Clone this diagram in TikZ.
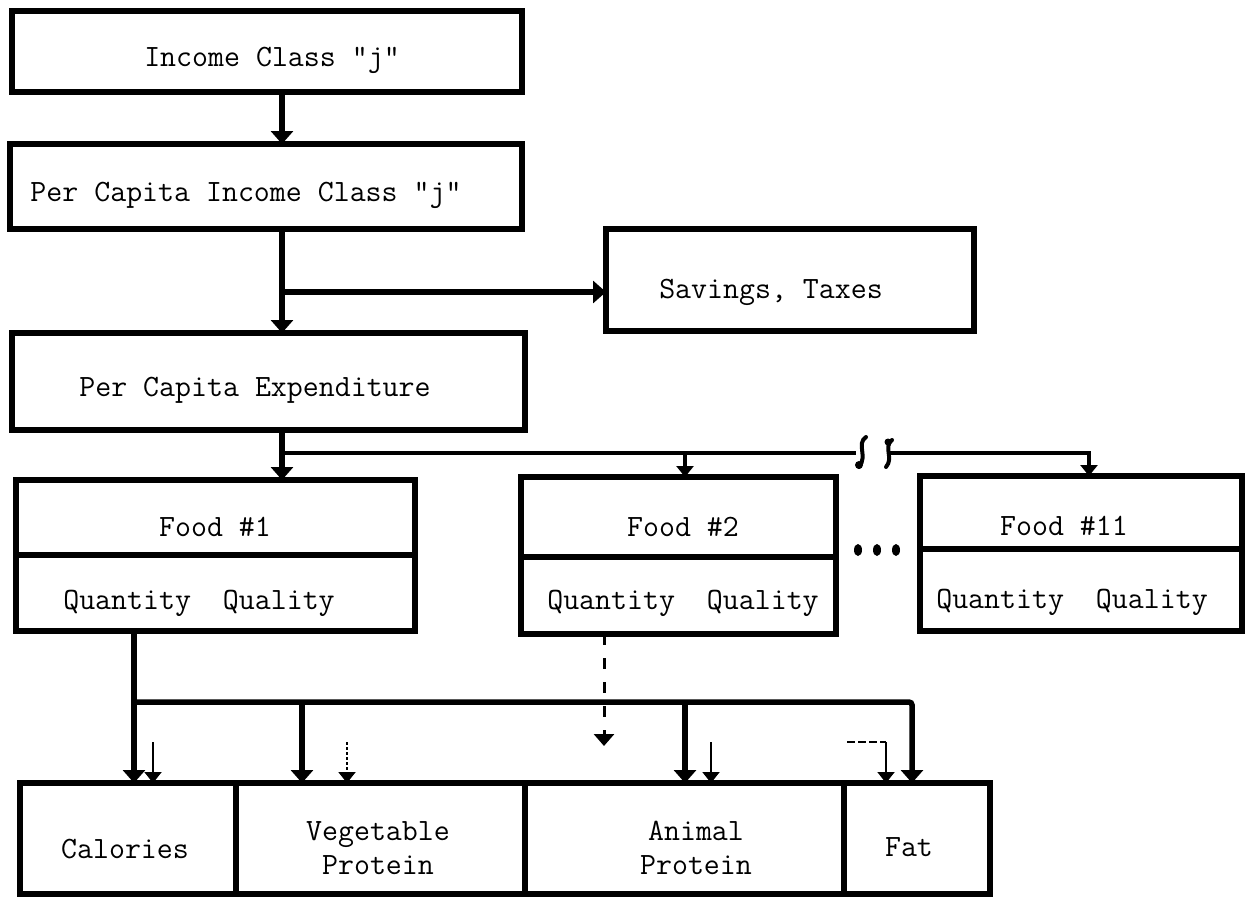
\documentclass[tikz,border=0pt]{standalone}
\usetikzlibrary{arrows.meta}
\begin{document}
\begin{tikzpicture}[x=1pt,y=-1pt,
  box/.style={draw, line width=6pt, inner sep=0pt, outer sep=0pt, rectangle},
  txt/.style={font=\fontsize{31}{34}\selectfont\ttfamily, inner sep=0pt, align=center},
  conn/.style={line width=5.5pt},
  medconn/.style={line width=4pt},
  thinconn/.style={line width=2pt},
  bigtip/.style={-{Triangle[width=22pt,length=13pt]}},
  smalltip/.style={-{Triangle[width=17pt,length=11pt]}}
]
\useasboundingbox (0,0) rectangle (1246,899);

% boxes
\node[box, minimum width=510pt, minimum height=81pt] (inc) at (267,51.5) {};
\node[box, minimum width=512pt, minimum height=85pt] (pci) at (266,186.5) {};
\node[box, minimum width=368pt, minimum height=102pt] (sav) at (790,280) {};
\node[box, minimum width=513pt, minimum height=97pt] (pce) at (268.5,381.5) {};
\node[box, minimum width=399pt, minimum height=151pt] (f1) at (215.5,555.5) {};
\node[box, minimum width=315pt, minimum height=157pt] (f2) at (678.5,555.5) {};
\node[box, minimum width=322pt, minimum height=155pt] (f11) at (1081,553.5) {};
\node[box, minimum width=216pt, minimum height=111pt] (cal) at (128,838.5) {};
\node[box, minimum width=289pt, minimum height=111pt] (veg) at (380.5,838.5) {};
\node[box, minimum width=319pt, minimum height=111pt] (ani) at (684.5,838.5) {};
\node[box, minimum width=146pt, minimum height=111pt] (fat) at (917,838.5) {};

% dividers in food boxes
\coordinate (d1) at (0,555);
\coordinate (d2) at (0,557);
\coordinate (d11) at (0,549);
\draw[line width=6pt] (f1.west |- d1) -- (f1.east |- d1);
\draw[line width=6pt] (f2.west |- d2) -- (f2.east |- d2);
\draw[line width=6pt] (f11.west |- d11) -- (f11.east |- d11);

% texts
\node[txt] (tinc) at (272,60) {Income Class "j"};
\node[txt] (tpci) at (246,195) {Per Capita Income Class "j"};
\node[txt] (tsav) at (771,292) {Savings, Taxes};
\node[txt] (tpce) at (255,390) {Per Capita Expenditure};
\node[txt] (tf1) at (215,527) {Food \#1};
\node[txt] (tq1) at (199,603) {Quantity\ \ Quality};
\node[txt] (tf2) at (683,527) {Food \#2};
\node[txt] (tq2) at (683,603) {Quantity\ \ Quality};
\node[txt] (tf11) at (1064,526) {Food \#11};
\node[txt] (tq11) at (1072,602) {Quantity\ \ Quality};
\node[txt] (tcal) at (125,849) {Calories};
\node[txt] (tveg) at (378,848) {Vegetable\\Protein};
\node[txt] (tani) at (696,848) {Animal\\Protein};
\node[txt] (tfat) at (909,847) {Fat};

% ellipsis dots
\fill (858,550) ellipse (4pt and 6pt);
\fill (877,550) ellipse (4pt and 6pt);
\fill (896,550) ellipse (4pt and 6pt);

% main trunk
\coordinate (xa) at (282,0);
\coordinate (br) at (282,292);
\draw[conn,bigtip] (inc.south -| xa) -- (pci.north -| xa);
\draw[conn,bigtip] (pci.south -| xa) -- (pce.north -| xa);
\draw[conn,bigtip] (br) -- (br -| sav.west);
\draw[conn,bigtip] (pce.south -| xa) -- (f1.north -| xa);

% bus to foods with break
\coordinate (bus) at (282,453);
\coordinate (brk1) at (856,453);
\coordinate (brk2) at (889,453);
\coordinate (x2) at (685,0);
\coordinate (x11) at (1089,0);
\draw[medconn] (bus) -- (brk1);
\draw[medconn,smalltip] (bus -| x2) -- (f2.north -| x2);
\draw[medconn,smalltip] (brk2) -- (bus -| x11) -- (f11.north -| x11);
% break squiggles
\draw[line width=4pt, line cap=round] (866,437) .. controls (856,444) and (868,456) .. (859,467);
\fill (859,465) ellipse (4pt and 4pt);
\draw[line width=4pt, line cap=round] (892,440) .. controls (883,447) and (894,458) .. (886,467);
\fill (888,442) ellipse (3.5pt and 3.5pt);

% food 1 to nutrients
\coordinate (xb1) at (134,0);
\coordinate (xb2) at (302,0);
\coordinate (xb3) at (685,0);
\coordinate (xb4) at (912,0);
\coordinate (bus2) at (134,702);
\draw[conn,bigtip] (f1.south -| xb1) -- (cal.north -| xb1);
\draw[conn,bigtip, rounded corners=3pt] (bus2) -- (bus2 -| xb4) -- (fat.north -| xb4);
\draw[conn,bigtip] (bus2 -| xb2) -- (veg.north -| xb2);
\draw[conn,bigtip] (bus2 -| xb3) -- (ani.north -| xb3);

% thin arrows
\coordinate (s1) at (153,742);
\coordinate (s2) at (347,742);
\coordinate (s3) at (711,742);
\coordinate (s4) at (886,742);
\coordinate (s4t) at (847,742);
\draw[thinconn,smalltip] (s1) -- (s1 |- cal.north);
\draw[thinconn,smalltip,dash pattern=on 3pt off 2pt] (s2) -- (s2 |- veg.north);
\draw[thinconn,smalltip] (s3) -- (s3 |- ani.north);
\draw[thinconn,smalltip] (s4) -- (s4 |- fat.north);
\draw[thinconn,dash pattern=on 8pt off 3pt] (s4t) -- (s4);

% dashed arrow from food 2
\coordinate (x2d) at (604,0);
\coordinate (e2) at (604,746);
\coordinate (e2a) at (604,732);
\draw[line width=3pt, dash pattern=on 11pt off 13pt] (f2.south -| x2d) -- (e2a);
\draw[line width=3pt,-{Triangle[width=20pt,length=12pt]}] (e2a) -- (e2);

\end{tikzpicture}
\end{document}
